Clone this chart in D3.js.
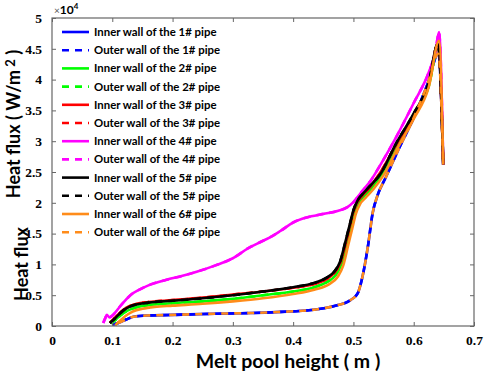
<!DOCTYPE html>
<html><head><meta charset="utf-8">
<script src="https://cdn.jsdelivr.net/npm/d3@7"></script>
<style>body{margin:0;background:#fff}svg{display:block}</style>
</head><body>
<svg id="c" width="484" height="373"></svg>
<script>
// heat flux values in units of 10^4 W/m^2
const pipe1X = [0.100,0.113,0.124,0.135,0.158,0.20,0.27,0.33,0.38,0.43,0.47,0.495,0.507,0.515,0.524,0.532,0.540,0.554,0.574,0.600,0.623,0.641,0.649];
const pipe1Y = [0.02,0.06,0.11,0.15,0.17,0.18,0.20,0.21,0.23,0.26,0.33,0.42,0.53,0.80,1.29,1.84,2.12,2.42,2.85,3.38,3.93,4.42,2.62];
const pipe2X = [0.098,0.104,0.11,0.12,0.13,0.142,0.16,0.20,0.25,0.30,0.35,0.40,0.435,0.455,0.47,0.48,0.489,0.496,0.502,0.509,0.517,0.53,0.548,0.57,0.60,0.625,0.641,0.649];
const pipe2Y = [0.04,0.09,0.14,0.22,0.27,0.31,0.34,0.37,0.40,0.44,0.50,0.56,0.63,0.71,0.82,1.00,1.32,1.60,1.84,2.00,2.10,2.24,2.48,2.88,3.40,3.90,4.55,2.62];
const pipe3X = [0.096,0.102,0.108,0.118,0.128,0.14,0.16,0.20,0.25,0.30,0.35,0.40,0.435,0.455,0.468,0.478,0.487,0.494,0.50,0.507,0.515,0.527,0.545,0.57,0.60,0.625,0.640,0.649];
const pipe3Y = [0.05,0.11,0.17,0.26,0.32,0.36,0.39,0.42,0.46,0.51,0.56,0.62,0.68,0.76,0.86,1.02,1.34,1.62,1.86,2.02,2.12,2.25,2.50,2.93,3.43,3.93,4.57,2.62];
const pipe4X = [0.085,0.088,0.091,0.095,0.099,0.105,0.113,0.122,0.130,0.145,0.16,0.19,0.215,0.24,0.27,0.30,0.325,0.345,0.36,0.38,0.40,0.415,0.43,0.45,0.475,0.49,0.50,0.512,0.53,0.545,0.57,0.60,0.625,0.636,0.642,0.649];
const pipe4Y = [0.05,0.12,0.18,0.14,0.16,0.22,0.32,0.42,0.50,0.59,0.66,0.75,0.81,0.88,0.98,1.10,1.26,1.36,1.43,1.55,1.68,1.74,1.78,1.82,1.87,1.93,2.01,2.16,2.38,2.62,3.05,3.62,4.12,4.45,4.77,2.62];
const pipe5X = [0.096,0.102,0.108,0.118,0.128,0.14,0.16,0.20,0.25,0.30,0.35,0.40,0.435,0.455,0.468,0.478,0.487,0.494,0.50,0.507,0.515,0.527,0.545,0.57,0.60,0.625,0.640,0.649];
const pipe5Y = [0.05,0.10,0.16,0.25,0.31,0.35,0.38,0.41,0.45,0.50,0.56,0.63,0.70,0.78,0.88,1.05,1.38,1.65,1.88,2.04,2.14,2.27,2.47,2.95,3.45,3.95,4.58,2.62];
const pipe6X = [0.105,0.11,0.118,0.126,0.135,0.15,0.17,0.20,0.25,0.30,0.35,0.40,0.435,0.46,0.474,0.483,0.491,0.498,0.504,0.511,0.52,0.533,0.55,0.575,0.60,0.625,0.642,0.649];
const pipe6Y = [0.01,0.06,0.13,0.19,0.24,0.28,0.31,0.33,0.36,0.40,0.45,0.52,0.59,0.68,0.80,0.98,1.30,1.58,1.82,1.98,2.08,2.22,2.45,2.92,3.36,3.88,4.63,2.62];

const seriesNames = ["Inner wall of the 1# pipe","Outer wall of the 1# pipe","Inner wall of the 2# pipe","Outer wall of the 2# pipe","Inner wall of the 3# pipe","Outer wall of the 3# pipe","Inner wall of the 4# pipe","Outer wall of the 4# pipe","Inner wall of the 5# pipe","Outer wall of the 5# pipe","Inner wall of the 6# pipe","Outer wall of the 6# pipe"];
const seriesColors = ["#0000ff","#0000ff","#00ff00","#00ff00","#ff0000","#ff0000","#ff00ff","#ff00ff","#000000","#000000","#ff8c1a","#ff8c1a"];
const seriesDashed = [false,true,false,true,false,true,false,true,false,true,false,true];
const seriesXs = [pipe1X,pipe1X,pipe2X,pipe2X,pipe3X,pipe3X,pipe4X,pipe4X,pipe5X,pipe5X,pipe6X,pipe1X];
const seriesYs = [pipe1Y,pipe1Y,pipe2Y,pipe2Y,pipe3Y,pipe3Y,pipe4Y,pipe4Y,pipe5Y,pipe5Y,pipe6Y,pipe1Y];

const xTicks = [0,0.1,0.2,0.3,0.4,0.5,0.6,0.7];
const yTicks = [0,0.5,1,1.5,2,2.5,3,3.5,4,4.5,5];

const svg = d3.select("#c");
const L=52,R=474,T=18,B=326;
const x = d3.scaleLinear().domain([0,0.7]).range([L,R]);
const y = d3.scaleLinear().domain([0,5]).range([B,T]);

const tickFont = "'Liberation Serif', 'Times New Roman', serif";
const sansB = "Lato, 'Open Sans', sans-serif";

// series lines
const line = d3.line().x(d=>x(d[0])).y(d=>y(d[1])).curve(d3.curveMonotoneX);
const gLines = svg.append("g");
seriesNames.forEach((n,i)=>{
  const pts = seriesXs[i].map((v,j)=>[v, seriesYs[i][j]]);
  gLines.append("path").datum(pts).attr("d",line)
    .attr("fill","none").attr("stroke",seriesColors[i]).attr("stroke-width",2.6)
    .attr("stroke-linejoin","round")
    .attr("stroke-dasharray", seriesDashed[i] ? "7,6" : null)
    .attr("stroke-dashoffset", i===11 ? 6.5 : 0);
});

// axes
function styleAxis(g, labels){
  g.select(".domain").remove();
  g.selectAll(".tick line").attr("stroke","#666");
  g.selectAll(".tick text").attr("font-family",tickFont).attr("font-weight","bold")
    .attr("font-size",13.5).attr("fill","#000");
  if(!labels) g.selectAll(".tick text").remove();
}
const fmt = d=>String(d);
svg.append("g").attr("transform",`translate(0,${B})`)
  .call(d3.axisBottom(x).tickValues(xTicks).tickFormat(fmt).tickSizeInner(-4).tickPadding(9))
  .call(g=>styleAxis(g,true));
svg.append("g").attr("transform",`translate(0,${T})`)
  .call(d3.axisTop(x).tickValues(xTicks).tickSizeInner(-4))
  .call(g=>styleAxis(g,false));
svg.append("g").attr("transform",`translate(${L},0)`)
  .call(d3.axisLeft(y).tickValues(yTicks).tickFormat(fmt).tickSizeInner(-4).tickPadding(10))
  .call(g=>styleAxis(g,true));
svg.append("g").attr("transform",`translate(${R},0)`)
  .call(d3.axisRight(y).tickValues(yTicks).tickSizeInner(-4))
  .call(g=>styleAxis(g,false));
svg.append("rect").attr("x",L).attr("y",T).attr("width",R-L).attr("height",B-T)
  .attr("fill","none").attr("stroke","#666").attr("stroke-width",1.2);

// exponent
const ex = svg.append("text").attr("x",54).attr("y",14).attr("font-family",sansB).attr("fill","#000");
ex.append("tspan").attr("font-size",10).attr("fill","#555").text("×");
ex.append("tspan").attr("font-size",12).attr("font-weight","bold").text("10");
ex.append("tspan").attr("font-size",8).attr("font-weight","bold").attr("dy",-5).text("4");

// legend
const lg = svg.append("g");
seriesNames.forEach((n,i)=>{
  const yy = 32 + i*18.2;
  lg.append("line").attr("x1",62).attr("x2",89).attr("y1",yy).attr("y2",yy)
    .attr("stroke",seriesColors[i]).attr("stroke-width",2.6)
    .attr("stroke-dasharray", seriesDashed[i] ? "7,6" : null);
  lg.append("text").attr("x",94).attr("y",yy+4).attr("font-family",sansB)
    .attr("font-weight","bold").attr("font-size",11.4).attr("fill","#000").text(n);
});

// axis titles
svg.append("text").attr("x",288).attr("y",368).attr("text-anchor","middle")
  .attr("font-family",sansB).attr("font-weight","bold").attr("font-size",19.5).attr("fill","#000")
  .text("Melt pool height ( m )");
const yl = svg.append("text").attr("transform","translate(20,124) rotate(-90)").attr("text-anchor","middle")
  .attr("font-family",sansB).attr("font-weight","bold").attr("font-size",18).attr("fill","#000");
yl.append("tspan").text("Heat flux ( W/m");
yl.append("tspan").attr("dy",-5).attr("font-size",13).text(" 2");
yl.append("tspan").attr("dy",5).text(" )");
svg.append("text").attr("transform","translate(28,264) rotate(-90)").attr("text-anchor","middle")
  .attr("font-family",sansB).attr("font-weight","bold").attr("font-size",18).attr("fill","#000")
  .text("Heat flux");
</script>
</body></html>
